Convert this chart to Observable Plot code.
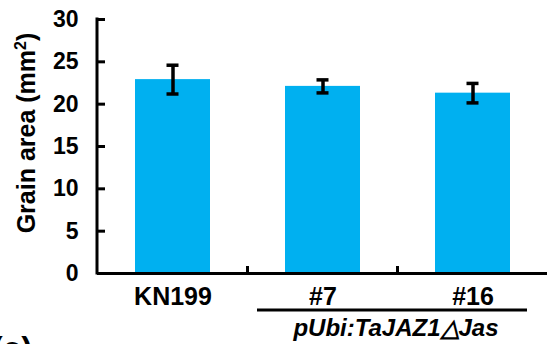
<!DOCTYPE html>
<html>
<head>
<meta charset="utf-8">
<script src="https://cdn.jsdelivr.net/npm/d3@7"></script>
<script src="https://cdn.jsdelivr.net/npm/@observablehq/plot@0.6"></script>
<style>
  html, body { margin: 0; padding: 0; background: #fff; overflow: hidden; }
  #chart { width: 547px; height: 344px; overflow: hidden; }
</style>
</head>
<body>
<div id="chart"></div>
<script>
const categories = ["KN199", "#7", "#16"];
const means = [22.9, 22.1, 21.3];
const errors = [1.7, 0.77, 1.15];
const yTicks = [0, 5, 10, 15, 20, 25, 30];
const yLabelMain = "Grain area (mm";
const yLabelSup = "2";
const yLabelEnd = ")";
const groupMembers = ["#7", "#16"];
const groupLabel = "pUbi:TaJAZ1△Jas";
const panelLabel = "(c)";

const data = categories.map((c, i) => ({cat: c, mean: means[i], lo: means[i] - errors[i], hi: means[i] + errors[i]}));

const W = 547, H = 344;
const mL = 97, mR = 0, mT = 19, mB = 71;
const step = (W - mL - mR) / categories.length;
const bw = step * 0.5;
const capW = 12;
const FONT = "'Liberation Sans', Arial, sans-serif";

function decorations(index, scales, values, dims) {
  const x = scales.x, y = scales.y;
  const g = d3.create("svg:g");
  // y axis line
  g.append("line")
    .attr("x1", dims.marginLeft).attr("x2", dims.marginLeft)
    .attr("y1", y(30) - 1.5).attr("y2", y(0) + 1.5)
    .attr("stroke", "black").attr("stroke-width", 3);
  // band boundary ticks on x axis
  categories.slice(1).forEach(c => {
    const bx = x(c) + bw / 2 - step / 2;
    g.append("line")
      .attr("x1", bx).attr("x2", bx)
      .attr("y1", y(0)).attr("y2", y(0) - 7)
      .attr("stroke", "black").attr("stroke-width", 3);
  });
  // group line
  const gx1 = x(groupMembers[0]) - 28;
  const gx2 = x(groupMembers[groupMembers.length - 1]) + bw + 17;
  g.append("line")
    .attr("x1", gx1).attr("x2", gx2)
    .attr("y1", 310).attr("y2", 310)
    .attr("stroke", "black").attr("stroke-width", 3);
  g.append("text")
    .attr("x", (gx1 + gx2) / 2 + 4).attr("y", 336)
    .attr("text-anchor", "middle")
    .attr("font-family", FONT).attr("font-size", 24)
    .attr("font-weight", "bold").attr("font-style", "italic")
    .attr("fill", "black")
    .text(groupLabel);
  // y label
  const t = g.append("text")
    .attr("transform", `translate(35,${(y(0) + y(30)) / 2 - 13}) rotate(-90)`)
    .attr("text-anchor", "middle")
    .attr("font-family", FONT).attr("font-size", 25)
    .attr("font-weight", "bold").attr("fill", "black");
  t.append("tspan").text(yLabelMain);
  t.append("tspan").attr("font-size", 16).attr("dy", -9).text(yLabelSup);
  t.append("tspan").attr("dy", 9).text(yLabelEnd);
  // panel label
  g.append("text")
    .attr("x", 12).attr("y", 360)
    .attr("font-family", FONT).attr("font-size", 33)
    .attr("font-weight", "bold").attr("fill", "black")
    .text(panelLabel);
  return g.node();
}

const chart = Plot.plot({
  width: W, height: H,
  marginLeft: mL, marginRight: mR, marginTop: mT, marginBottom: mB,
  style: {fontFamily: FONT, background: "white", color: "black", overflow: "hidden"},
  x: {domain: categories, paddingInner: 0.5, paddingOuter: 0.25, label: null},
  y: {domain: [0, 30], label: null},
  marks: [
    Plot.barY(data, {x: "cat", y: "mean", fill: "#00B0F0"}),
    Plot.ruleX(data, {x: "cat", y1: "lo", y2: "hi", stroke: "black", strokeWidth: 3.5}),
    Plot.tickY(data, {x: "cat", y: "hi", stroke: "black", strokeWidth: 3.5, insetLeft: (bw - capW) / 2, insetRight: (bw - capW) / 2}),
    Plot.tickY(data, {x: "cat", y: "lo", stroke: "black", strokeWidth: 3.5, insetLeft: (bw - capW) / 2, insetRight: (bw - capW) / 2}),
    Plot.ruleY([0], {stroke: "black", strokeWidth: 3}),
    Plot.axisY({ticks: yTicks, tickSize: -8, tickPadding: 27, strokeWidth: 3, fontSize: 23, fontWeight: "bold", tickFormat: d => d, label: null}),
    Plot.axisX({tickSize: 0, tickPadding: 14, fontSize: 25, fontWeight: "bold", label: null}),
    decorations
  ]
});
document.getElementById("chart").appendChild(chart);
</script>
</body>
</html>
